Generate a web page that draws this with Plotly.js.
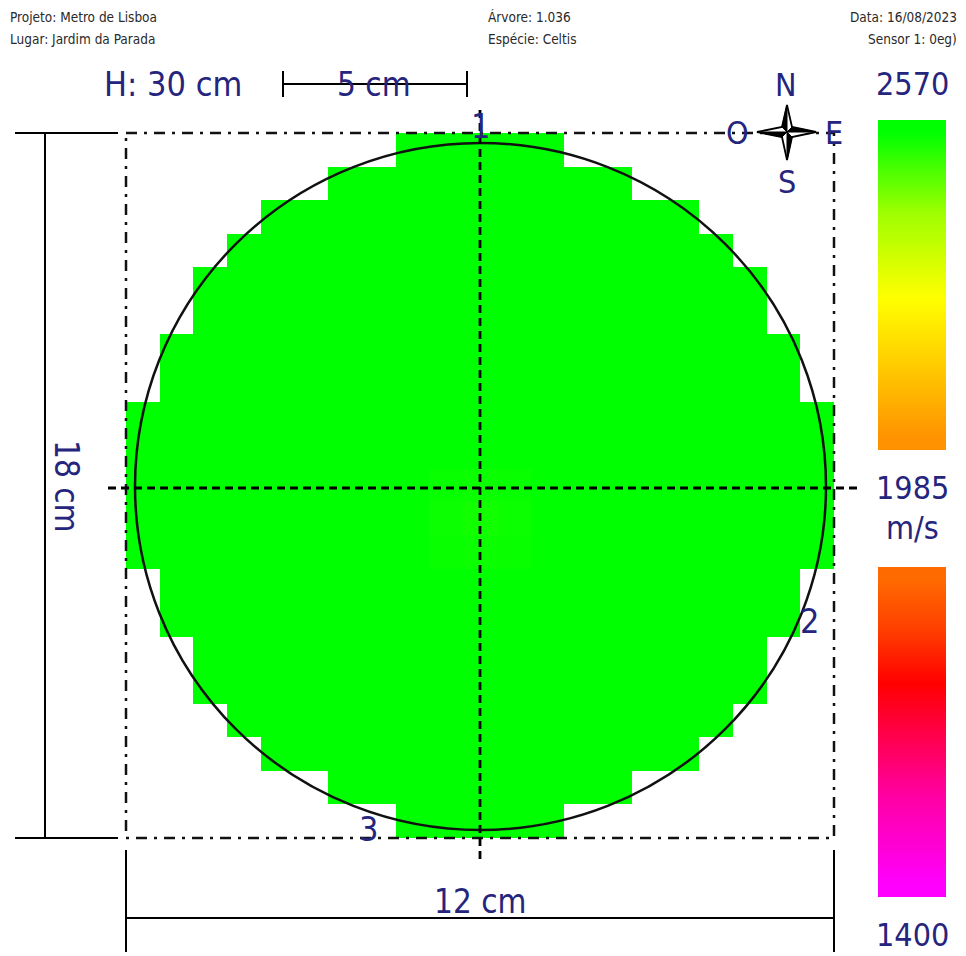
<!DOCTYPE html>
<html>
<head>
<meta charset="utf-8">
<script src="https://cdn.plot.ly/plotly-3.0.1.min.js"></script>
<style>html,body{margin:0;padding:0;background:#fff;}#chart{width:966px;height:956px;}</style>
</head>
<body>
<div id="chart"></div>
<script>
// ---- data ----
const N = null;
// velocity grid (m/s), 21 x 21 cells, rows top (N) to bottom (S)
const velocity = [
  [N,N,N,N,N,N,N,N,2570,2570,2570,2570,2570,N,N,N,N,N,N,N,N],
  [N,N,N,N,N,N,2570,2570,2570,2570,2570,2570,2570,2570,2570,N,N,N,N,N,N],
  [N,N,N,N,2570,2570,2570,2570,2570,2570,2570,2570,2570,2570,2570,2570,2570,N,N,N,N],
  [N,N,N,2570,2570,2570,2570,2570,2570,2570,2570,2570,2570,2570,2570,2570,2570,2570,N,N,N],
  [N,N,2570,2570,2570,2570,2570,2570,2570,2570,2570,2570,2570,2570,2570,2570,2570,2570,2570,N,N],
  [N,N,2570,2570,2570,2570,2570,2570,2570,2570,2570,2570,2570,2570,2570,2570,2570,2570,2570,N,N],
  [N,2570,2570,2570,2570,2570,2570,2570,2570,2570,2570,2570,2570,2570,2570,2570,2570,2570,2570,2570,N],
  [N,2570,2570,2570,2570,2570,2570,2570,2570,2570,2570,2570,2570,2570,2570,2570,2570,2570,2570,2570,N],
  [2570,2570,2570,2570,2570,2570,2570,2570,2570,2570,2570,2570,2570,2570,2570,2570,2570,2570,2570,2570,2570],
  [2570,2570,2570,2570,2570,2570,2570,2570,2570,2570,2570,2570,2570,2570,2570,2570,2570,2570,2570,2570,2570],
  [2570,2570,2570,2570,2570,2570,2570,2570,2570,2562,2558,2562,2570,2570,2570,2570,2570,2570,2570,2570,2570],
  [2570,2570,2570,2570,2570,2570,2570,2570,2570,2558,2552,2558,2570,2570,2570,2570,2570,2570,2570,2570,2570],
  [2570,2570,2570,2570,2570,2570,2570,2570,2570,2562,2558,2562,2570,2570,2570,2570,2570,2570,2570,2570,2570],
  [N,2570,2570,2570,2570,2570,2570,2570,2570,2570,2570,2570,2570,2570,2570,2570,2570,2570,2570,2570,N],
  [N,2570,2570,2570,2570,2570,2570,2570,2570,2570,2570,2570,2570,2570,2570,2570,2570,2570,2570,2570,N],
  [N,N,2570,2570,2570,2570,2570,2570,2570,2570,2570,2570,2570,2570,2570,2570,2570,2570,2570,N,N],
  [N,N,2570,2570,2570,2570,2570,2570,2570,2570,2570,2570,2570,2570,2570,2570,2570,2570,2570,N,N],
  [N,N,N,2570,2570,2570,2570,2570,2570,2570,2570,2570,2570,2570,2570,2570,2570,2570,N,N,N],
  [N,N,N,N,2570,2570,2570,2570,2570,2570,2570,2570,2570,2570,2570,2570,2570,N,N,N,N],
  [N,N,N,N,N,N,2570,2570,2570,2570,2570,2570,2570,2570,2570,N,N,N,N,N,N],
  [N,N,N,N,N,N,N,N,2570,2570,2570,2570,2570,N,N,N,N,N,N,N,N]
];
// colour bar levels (m/s)
const barUpper = [2570,2525,2480,2435,2390,2345,2300,2255,2210,2165,2120,2075,2030,1985];
const barLower = [1985,1940,1895,1850,1805,1760,1715,1670,1625,1580,1535,1490,1445,1400];
const vMin = 1400, vMid = 1985, vMax = 2570;
const unit = 'm/s';
const header = {
  projeto: 'Projeto: Metro de Lisboa',
  lugar: 'Lugar: Jardim da Parada',
  arvore: 'Árvore: 1.036',
  especie: 'Espécie: Celtis',
  data: 'Data: 16/08/2023',
  sensor: 'Sensor 1: 0eg)'
};
const sensorLabels = ['1','2','3'];
const dims = {height: 'H: 30 cm', scale: '5 cm', width: '12 cm', depth: '18 cm'};
const compass = ['N','S','O','E'];

// ---- style ----
const NAVY = '#25257d';
const FONT = '"DejaVu Sans Condensed", "DejaVu Sans", sans-serif';
// upper half of the scale (vMid..vMax)
const scaleUpper = [
  [0.0, '#ff9200'],
  [0.24, '#ffcc00'],
  [0.46, '#ffff00'],
  [0.74, '#9cff00'],
  [1.0, '#00ff00']
];
// lower half of the scale (vMin..vMid)
const scaleLower = [
  [0.0, '#ff00ff'],
  [0.3, '#ff00a0'],
  [0.48, '#ff0050'],
  [0.66, '#ff0000'],
  [0.84, '#ff4000'],
  [1.0, '#ff6a00']
];

// geometry (pixel-based layout coordinates)
const gx0 = 126, gx1 = 834, gy0 = 133, gy1 = 838, ncell = 21;
const cw = (gx1 - gx0) / ncell, ch = (gy1 - gy0) / ncell;
const barX0 = 878, barX1 = 946;
const upTop = 120, upBot = 450, loTop = 567, loBot = 897;

const traces = [
  {
    type: 'heatmap', z: velocity, x0: gx0 + cw/2, dx: cw, y0: gy0 + ch/2, dy: ch,
    colorscale: scaleUpper, zmin: vMid, zmax: vMax, showscale: false, zsmooth: false,
    hoverinfo: 'z'
  },
  {
    type: 'heatmap', z: barUpper.map(v => [v]), x0: (barX0+barX1)/2, dx: barX1-barX0,
    y0: upTop + (upBot-upTop)/barUpper.length/2, dy: (upBot-upTop)/barUpper.length,
    colorscale: scaleUpper, zmin: vMid, zmax: vMax, showscale: false, zsmooth: 'best', hoverinfo: 'z'
  },
  {
    type: 'heatmap', z: barLower.map(v => [v]), x0: (barX0+barX1)/2, dx: barX1-barX0,
    y0: loTop + (loBot-loTop)/barLower.length/2, dy: (loBot-loTop)/barLower.length,
    colorscale: scaleLower, zmin: vMin, zmax: vMid, showscale: false, zsmooth: 'best', hoverinfo: 'z'
  }
];

function line(x0,y0,x1,y1,w,dash){
  return {type:'line', xref:'x', yref:'y', x0:x0, y0:y0, x1:x1, y1:y1,
          line:{color:'#000', width:w, dash:dash||'solid'}, layer:'above'};
}
const cx = 787, cy = 132;
const shapes = [
  // outline of the tree section
  {type:'circle', xref:'x', yref:'y', x0:135, y0:143, x1:826, y1:830, line:{color:'#111', width:2.5}, layer:'above'},
  // bounding rectangle (dash-dot)
  {type:'rect', xref:'x', yref:'y', x0:gx0, y0:gy0, x1:gx1, y1:gy1, line:{color:'#111', width:2.5, dash:'11px,7px,3px,7px'}, layer:'above'},
  // crosshair
  line(480,110,480,862,2.8,'8px,5px'),
  line(108,488,858,488,2.8,'8px,5px'),
  // left dimension
  line(45,133,45,838,2),
  line(15,133,118,133,2),
  line(15,838,118,838,2),
  // bottom dimension
  line(126,918,834,918,2),
  line(126,850,126,952,2),
  line(834,850,834,952,2),
  // scale bar
  line(283,84,467,84,2),
  line(283,71,283,97,2),
  line(467,71,467,97,2),
  // compass star
  {type:'path', xref:'x', yref:'y', layer:'above',
   path:`M${cx},${cy-27} L${cx+5},${cy-5} L${cx+29},${cy} L${cx+5},${cy+5} L${cx},${cy+28} L${cx-5},${cy+5} L${cx-30},${cy} L${cx-5},${cy-5} Z`,
   fillcolor:'#fff', line:{color:'#000', width:1.8}},
  {type:'path', xref:'x', yref:'y', layer:'above',
   path:`M${cx},${cy-27} L${cx-5},${cy-5} L${cx},${cy} Z M${cx+29},${cy} L${cx+5},${cy-5} L${cx},${cy} Z M${cx},${cy+28} L${cx+5},${cy+5} L${cx},${cy} Z M${cx-30},${cy} L${cx-5},${cy+5} L${cx},${cy} Z`,
   fillcolor:'#000', line:{color:'#000', width:1}}
];

function txt(t,x,y,size,opts){
  return Object.assign({text:t, x:x, y:y, xref:'x', yref:'y', showarrow:false,
    font:{family:FONT, size:size, color:NAVY}, xanchor:'center', yanchor:'middle'}, opts||{});
}
const hdrFont = {family:FONT, size:13.5, color:'#2a2a2a'};
const annotations = [
  txt(header.projeto, 8, 17, 13.5, {xanchor:'left', font:hdrFont}),
  txt(header.lugar, 8, 39, 13.5, {xanchor:'left', font:hdrFont}),
  txt(header.arvore, 486, 17, 13.5, {xanchor:'left', font:hdrFont}),
  txt(header.especie, 486, 39, 13.5, {xanchor:'left', font:hdrFont}),
  txt(header.data, 959, 17, 13.5, {xanchor:'right', font:hdrFont}),
  txt(header.sensor, 959, 39, 13.5, {xanchor:'right', font:hdrFont}),
  txt(dims.height, 102, 84, 34, {xanchor:'left'}),
  txt(dims.scale, 374, 84, 33),
  txt(dims.width, 480, 901, 33),
  txt(dims.depth, 67, 486, 33, {textangle:90}),
  txt(compass[0], 786, 85, 32),
  txt(compass[1], 787, 182, 32),
  txt(compass[2], 737, 133, 32),
  txt(compass[3], 834, 133, 32),
  txt(sensorLabels[0], 480, 126, 34),
  txt(sensorLabels[1], 809, 621, 34),
  txt(sensorLabels[2], 368, 829, 34),
  txt(String(vMax), 912, 84, 32),
  txt(String(vMid), 912, 488, 32),
  txt(unit, 912, 528, 32),
  txt(String(vMin), 912, 935, 32)
];

const layout = {
  width: 966, height: 956,
  margin: {l:0, r:0, t:0, b:0, pad:0},
  paper_bgcolor: '#fff', plot_bgcolor: '#fff',
  showlegend: false,
  xaxis: {range:[0,966], visible:false, fixedrange:true},
  yaxis: {range:[956,0], visible:false, fixedrange:true},
  shapes: shapes,
  annotations: annotations
};
Plotly.newPlot('chart', traces, layout, {displayModeBar:false, staticPlot:true});
</script>
</body>
</html>
